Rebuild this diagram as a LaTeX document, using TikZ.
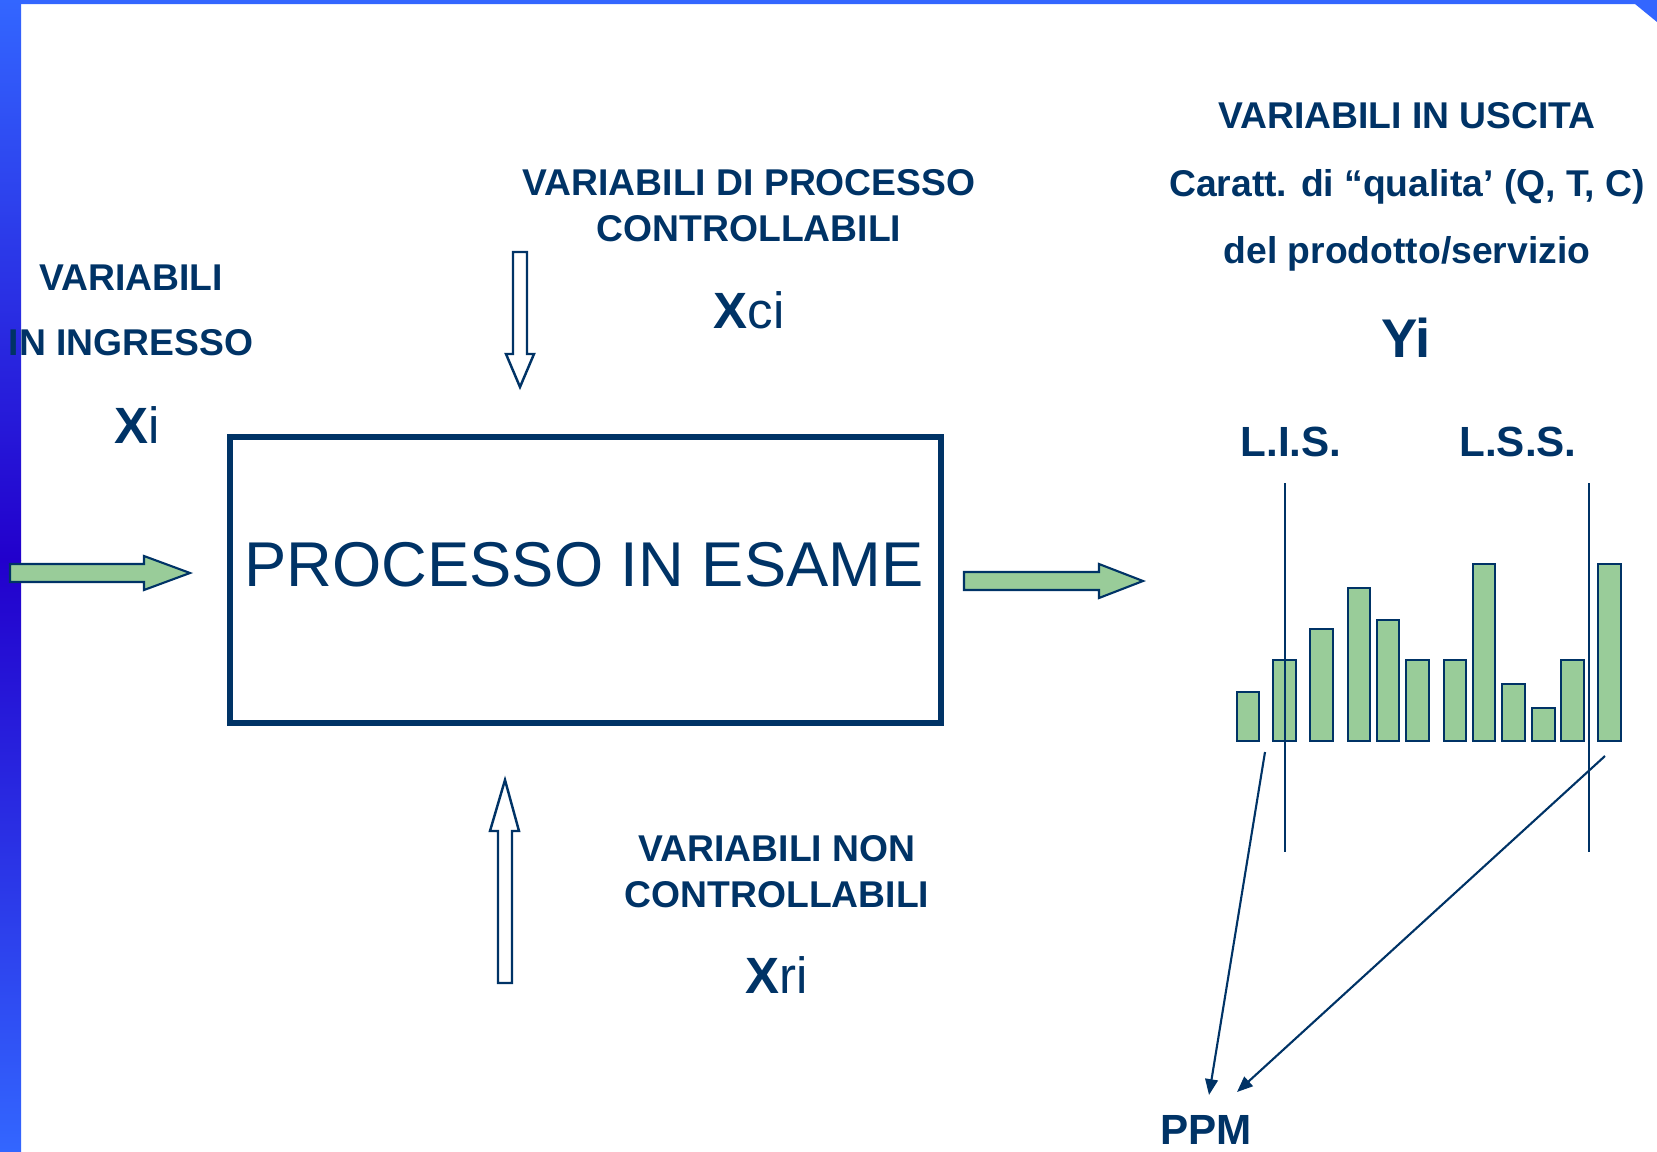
\documentclass[tikz,border=0pt]{standalone}
\usepackage{fontspec}
\setmainfont{Liberation Sans}
\usetikzlibrary{arrows.meta}
\definecolor{navy}{HTML}{003366}
\definecolor{barfill}{HTML}{99CC99}
\definecolor{edgeblue}{HTML}{3366FF}
\definecolor{deepblue}{HTML}{2200CC}
\begin{document}
\begin{tikzpicture}[x=0.01cm,y=-0.01cm,
  lbl/.style={text=navy,font=\bfseries\fontsize{10.6}{19}\selectfont,align=center,inner sep=0pt},
  sym/.style={text=navy,font=\fontsize{14.5}{17}\selectfont,inner sep=0pt},
  lim/.style={text=navy,font=\bfseries\fontsize{12}{14}\selectfont,inner sep=0pt},
  bar/.style={draw=navy,fill=barfill,line width=0.7pt},
  greenarrow/.style={draw=navy,fill=barfill,line width=0.6pt},
  hollowarrow/.style={draw=navy,fill=white,line width=0.7pt},
  limline/.style={draw=navy,line width=0.5pt},
  pointer/.style={draw=navy,line width=0.6pt,-{Triangle[length=4.5pt,width=3.6pt]}}]
  \useasboundingbox (0,0) rectangle (1657,1151);

  % frame of the slide
  \fill[edgeblue] (0,0) -- (1657,0) -- (1657,22) -- (1635,4) -- (0,4) -- cycle;
  \shade[top color=edgeblue,bottom color=deepblue] (0,0) rectangle (21,560);
  \shade[top color=deepblue,bottom color=edgeblue] (0,560) rectangle (21,1151);

  % the process
  \node [draw=navy,line width=1.8pt,minimum width=7.11cm,minimum height=2.86cm] (proc) at (585.5,580) {};
  \node [text=navy,font=\fontsize{18}{20}\selectfont,inner sep=0pt] (proctitle) at (584,565) {PROCESSO IN ESAME};

  % input
  \draw[greenarrow] (10,564) -- (144,564) -- (144,556) -- (190,573) -- (144,590) -- (144,582) -- (10,582) -- cycle;
  \node [lbl,font=\bfseries\fontsize{10.6}{18.5}\selectfont] (inlbl) at (131,310) {VARIABILI\\IN INGRESSO};
  \node [sym] (xi) at (137,425) {\textbf{X}i};

  % controllable
  \draw[hollowarrow] (513,252) -- (527,252) -- (527,354) -- (534,354) -- (520,387) -- (506,354) -- (513,354) -- cycle;
  \node [lbl,font=\bfseries\fontsize{10.6}{13}\selectfont] (ctrl) at (749,206) {VARIABILI DI PROCESSO\\CONTROLLABILI};
  \node [sym] (xci) at (749,310) {\textbf{X}ci};

  % not controllable
  \draw[hollowarrow] (505,780) -- (519,831) -- (512,831) -- (512,983) -- (498,983) -- (498,831) -- (490,831) -- cycle;
  \node [lbl,font=\bfseries\fontsize{10.6}{13}\selectfont] (nctrl) at (777,871.5) {VARIABILI NON\\CONTROLLABILI};
  \node [sym] (xri) at (777,975) {\textbf{X}ri};

  % output
  \draw[greenarrow] (964,572) -- (1099,572) -- (1099,564) -- (1143,581) -- (1099,598) -- (1099,590) -- (964,590) -- cycle;
  \node [lbl,font=\bfseries\fontsize{10.6}{19.2}\selectfont] (outlbl) at (1407,187) {VARIABILI IN USCITA\\Caratt. di “qualita’ (Q, T, C)\\del prodotto/servizio};
  \node [sym,font=\bfseries\fontsize{15.5}{18}\selectfont] (yi) at (1406,338) {Yi};

  % distribution and limits
  \foreach \xl/\xr/\top in {1237/1259/692, 1273/1296/660, 1310/1333/629, 1348/1370/588,
      1377/1399/620, 1406/1429/660, 1444/1466/660, 1473/1495/564, 1502/1525/684,
      1532/1555/708, 1561/1584/660, 1598/1621/564}
    \draw[bar] (\xl,741) rectangle (\xr,\top);
  \node [lim] (lis) at (1291,442) {L.I.S.};
  \node [lim] (lss) at (1518,442) {L.S.S.};
  \coordinate (lisTop) at (1285,483);
  \coordinate (lisBot) at (1285,852);
  \coordinate (lssTop) at (1589,483);
  \coordinate (lssBot) at (1589,852);
  \draw[limline] (lisTop) -- (lisBot);
  \draw[limline] (lssTop) -- (lssBot);

  % out of tolerance
  \node [lim] (ppm) at (1206,1130) {PPM};
  \coordinate (lowTail) at (1265,752);
  \coordinate (highTail) at (1605,756);
  \coordinate (lowHead) at (1209,1095);
  \coordinate (highHead) at (1237,1092);
  \draw[pointer] (lowTail) -- (lowHead);
  \draw[pointer] (highTail) -- (highHead);
\end{tikzpicture}
\end{document}
